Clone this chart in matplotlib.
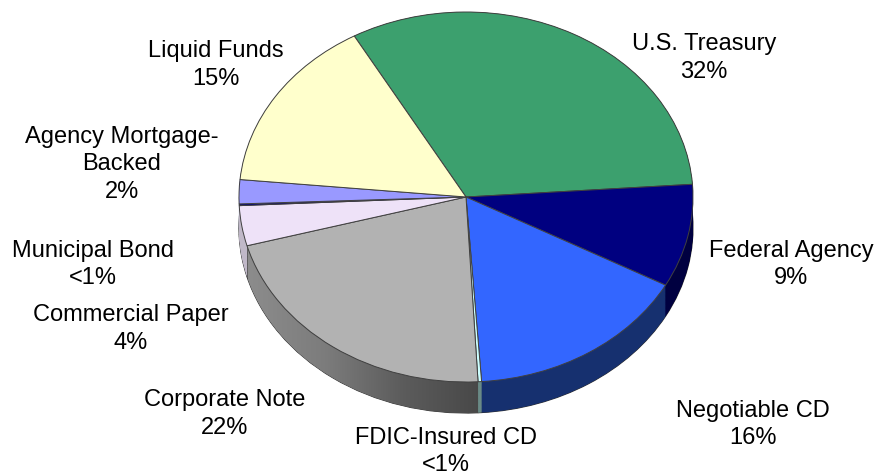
# Portfolio composition pie with a fake 3D look
import numpy as np
import matplotlib
matplotlib.use('Agg')
import matplotlib.pyplot as plt
from matplotlib.colors import LinearSegmentedColormap
from matplotlib.patches import Polygon

plt.rcParams['font.family'] = ['Liberation Sans', 'DejaVu Sans']

# Data
names = ['U.S. Treasury', 'Federal Agency', 'Negotiable CD', 'FDIC-Insured CD', 'Corporate Note',
         'Commercial Paper', 'Municipal Bond', 'Agency Mortgage-\nBacked', 'Liquid Funds']
values = [32.1, 9.0, 16.0, 0.25, 21.6, 3.5, 0.15, 2.1, 15.3]
shown = ['32%', '9%', '16%', '<1%', '22%', '4%', '<1%', '2%', '15%']
top_colors = ['#3CA06E', '#000080', '#3366FF', '#CCFFFF', '#B2B2B2', '#EEE2F8', '#000080', '#9999FF', '#FFFFCC']
side_colors = ['#1E5037', '#000040', '#16306F', '#6A8A86', '#5A5A5A', '#C0B8C8', '#000040', '#7070C0', '#A0A080']
label_x = [704, 791, 753, 446, 225, 131, 93, 122, 216]
label_y = [58, 264.5, 424.5, 451.5, 414, 329, 264.5, 164.5, 65]

# Layout in pixels
W, H = 879, 476
cx, cy, rx, ry, depth = 466, 197, 227, 185, 31

fig = plt.figure(figsize=(W / 100, H / 100), dpi=100)
ax = fig.add_axes([0, 0, 1, 1])


def draw(center, colors, **kw):
    return ax.pie(values, colors=colors, startangle=119.5, counterclock=False, radius=1,
                  center=center, **kw)[0]


# side wall: stack of pies going up from the bottom
d_units = depth / ry
draw((0, -d_units), side_colors, wedgeprops={'edgecolor': '#303030', 'linewidth': 0.8})
for d in np.linspace(d_units, 0, 40):
    draw((0, -d), side_colors, wedgeprops={'linewidth': 0})

# top face
top = draw((0, 0), top_colors, wedgeprops={'edgecolor': '#404040', 'linewidth': 0.7})
for w in top:
    w.set_zorder(2)

# gradient over the corporate note wall
t1, t2 = np.radians(top[4].theta1), np.radians(top[4].theta2)
arc = np.linspace(t1, t2, 120)
wall = np.vstack([np.c_[np.cos(arc), np.sin(arc) - d_units],
                  np.c_[np.cos(arc[::-1]), np.sin(arc[::-1])]])
wall_patch = Polygon(wall, closed=True, transform=ax.transData, facecolor='none', edgecolor='none')
ax.add_patch(wall_patch)
cmap = LinearSegmentedColormap.from_list('wall', ['#8C8C8C', '#7C7C7C', '#5C5C5C', '#484848'])
im = ax.imshow(np.linspace(0, 1, 256).reshape(1, -1), cmap=cmap, aspect='auto',
               extent=[(248 - cx) / rx, (480 - cx) / rx, -1.3, 0], zorder=1.5)
im.set_clip_path(wall_patch)

ax.set_aspect('auto')
ax.set_xlim(-cx / rx, (W - cx) / rx)
ax.set_ylim(-(H - cy) / ry, cy / ry)
ax.axis('off')

# labels, placed by pixel position
for name, pct, x, y in zip(names, shown, label_x, label_y):
    ax.text((x - cx) / rx, (cy - y) / ry, name + '\n' + pct, ha='center', va='center',
            fontsize=17, color='black', linespacing=1.33, zorder=5)

fig.savefig('out.png', dpi=100, facecolor='white')
